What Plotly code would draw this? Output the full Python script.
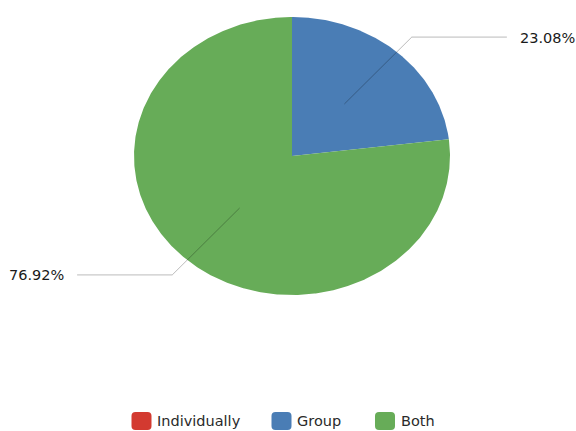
import numpy as np
import plotly.graph_objects as go

# Response counts per answer
categories = ["Individually", "Group", "Both"]
counts = [0, 3, 10]
colors = ["#D33A30", "#4A7DB5", "#67AC58"]

total = sum(counts)
shares = [c / total for c in counts]

# Pie geometry in unit-ellipse coordinates (axes stretch it horizontally)
W, H = 576, 431
cx_px, cy_px = 292, 156
rx_px, ry_px = 158, 139

x_range = [-cx_px / rx_px, (W - cx_px) / rx_px]
y_range = [-(H - cy_px) / ry_px, cy_px / ry_px]

fig = go.Figure()

start = 90.0  # degrees, clockwise from 12 o'clock
label_info = []
for name, share, col in zip(categories, shares, colors):
    sweep = share * 360.0
    if sweep > 0:
        ang = np.radians(np.linspace(start, start - sweep, max(int(sweep * 2), 4)))
        xs = np.concatenate([[0], np.cos(ang), [0]])
        ys = np.concatenate([[0], np.sin(ang), [0]])
        fig.add_trace(go.Scatter(
            x=xs, y=ys, mode="lines", fill="toself", fillcolor=col,
            line=dict(width=0, color=col), hoverinfo="skip", showlegend=False,
            name=name))
        label_info.append((np.radians(start - sweep / 2), share))
    start -= sweep

# Leader lines and percentage labels
for mid, share in label_info:
    c, s = np.cos(mid), np.sin(mid)
    side = 1 if c >= 0 else -1
    x0, y0 = 0.5 * c, 0.5 * s
    x1, y1 = 1.143 * c, 1.143 * s
    x2 = side * 1.36
    fig.add_trace(go.Scatter(
        x=[x0, x1, x2], y=[y0, y1, y1], mode="lines",
        line=dict(color="rgba(0,0,0,0.27)", width=1),
        hoverinfo="skip", showlegend=False))
    fig.add_annotation(
        x=x2 + side * 0.07, y=y1, text=f"{share * 100:.2f}%",
        showarrow=False, xanchor="left" if side > 0 else "right",
        yanchor="middle", yshift=-0.5,
        font=dict(family="DejaVu Sans, sans-serif", size=14.5, color="#1a1a1a"))


# Legend row: rounded swatches with labels, laid out in pixels
def px_x(v):
    return v / W


def px_y(v):
    return 1 - v / H


def rounded_rect(x0, y0, x1, y1, r):
    X = lambda v: f"{px_x(v):.5f}"
    Y = lambda v: f"{px_y(v):.5f}"
    return (f"M {X(x0 + r)},{Y(y0)} L {X(x1 - r)},{Y(y0)} "
            f"Q {X(x1)},{Y(y0)} {X(x1)},{Y(y0 + r)} "
            f"L {X(x1)},{Y(y1 - r)} Q {X(x1)},{Y(y1)} {X(x1 - r)},{Y(y1)} "
            f"L {X(x0 + r)},{Y(y1)} Q {X(x0)},{Y(y1)} {X(x0)},{Y(y1 - r)} "
            f"L {X(x0)},{Y(y0 + r)} Q {X(x0)},{Y(y0)} {X(x0 + r)},{Y(y0)} Z")


legend_x = [131.5, 271.5, 375.0]
legend_y = 421
for name, col, lx in zip(categories, colors, legend_x):
    fig.add_shape(type="path", xref="paper", yref="paper",
                  path=rounded_rect(lx, legend_y - 9, lx + 20, legend_y + 9, 4),
                  fillcolor=col, line=dict(width=0))
    fig.add_annotation(
        x=px_x(lx + 23.5), y=px_y(legend_y), xref="paper", yref="paper",
        text=name, showarrow=False, xanchor="left", yanchor="middle",
        font=dict(family="DejaVu Sans, sans-serif", size=14.5, color="#2a2a2a"))

fig.update_layout(
    width=W, height=H,
    margin=dict(l=0, r=0, t=0, b=0, autoexpand=False),
    paper_bgcolor="white", plot_bgcolor="white",
    xaxis=dict(range=x_range, visible=False, fixedrange=True),
    yaxis=dict(range=y_range, visible=False, fixedrange=True),
    showlegend=False,
)

fig.write_html("out.html")
